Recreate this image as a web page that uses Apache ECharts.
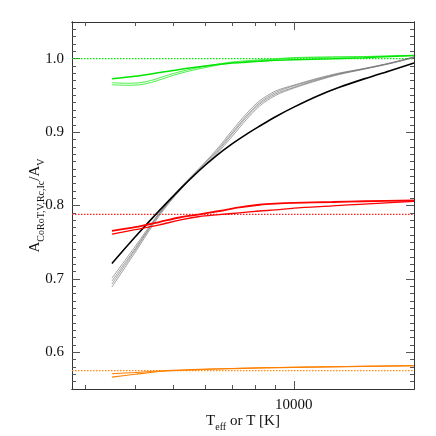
<!DOCTYPE html>
<html>
<head>
<meta charset="utf-8">
<script src="https://cdn.jsdelivr.net/npm/echarts@6/dist/echarts.min.js"></script>
<style>
  html, body { margin: 0; padding: 0; background: #fff; }
  #chart { width: 436px; height: 436px; }
</style>
</head>
<body>
<div id="chart"></div>
<script>
// temperatures [K]
const tBlack = [3500, 4000, 4600, 5200, 5800, 6400, 7000, 7600, 8200, 9000, 10000, 11500, 13000, 15000, 17500, 20000]
const black = [0.721, 0.757, 0.793, 0.823, 0.848, 0.868, 0.884, 0.897, 0.908, 0.921, 0.934, 0.9495, 0.961, 0.9725, 0.984, 0.994]
const gray1 = [0.689, 0.736, 0.786, 0.8215, 0.847, 0.870, 0.894, 0.917, 0.9355, 0.950, 0.960, 0.9705, 0.9785, 0.9857, 0.9935, 1.0015]
const gray2 = [0.693, 0.739, 0.788, 0.8225, 0.848, 0.872, 0.897, 0.920, 0.938, 0.952, 0.961, 0.9715, 0.9792, 0.986, 0.994, 1.002]
const gray3 = [0.697, 0.741, 0.789, 0.8235, 0.850, 0.874, 0.899, 0.922, 0.940, 0.954, 0.963, 0.9725, 0.9798, 0.9864, 0.994, 1.002]
const gray4 = [0.701, 0.744, 0.790, 0.8245, 0.851, 0.876, 0.902, 0.925, 0.9425, 0.956, 0.964, 0.9735, 0.9805, 0.9867, 0.9945, 1.0025]

const tGreen = [3500, 4000, 4800, 5800, 7000, 8500, 10000, 12500, 15000, 17500, 20000]
const green = [0.9728, 0.976, 0.9827, 0.989, 0.994, 0.997, 0.9985, 1.000, 1.0014, 1.003, 1.0045]
const tGreenB = [3500, 3800, 4100, 4400, 4700, 5000, 5500, 6200, 7000, 8500, 10000, 12500, 15000, 20000]
const greenB1 = [0.9673, 0.9666, 0.9672, 0.9705, 0.9755, 0.980, 0.9855, 0.991, 0.9955, 0.999, 1.0015, 1.0025, 1.003, 1.0045]
const greenB2 = [0.9645, 0.9638, 0.9644, 0.9677, 0.9727, 0.9775, 0.9835, 0.9895, 0.9945, 0.998, 1.001, 1.002, 1.0028, 1.0042]

const tRed = [3500, 4000, 4600, 5200, 5800, 6500, 7300, 8200, 9000, 10000, 12500, 15000, 20000]
const redA = [0.7655, 0.7705, 0.7775, 0.784, 0.788, 0.7925, 0.7975, 0.801, 0.8025, 0.8035, 0.8048, 0.8058, 0.8068]
const redB = [0.761, 0.767, 0.7735, 0.7805, 0.785, 0.7875, 0.790, 0.7925, 0.794, 0.7965, 0.7995, 0.802, 0.8055]

const tOrange = [3500, 4000, 4800, 7000, 10000, 15000, 20000]
const orange1 = [0.5708, 0.5725, 0.5752, 0.578, 0.5797, 0.581, 0.5818]
const orange2 = [0.5662, 0.570, 0.5745, 0.5778, 0.5795, 0.5808, 0.5816]

// dotted reference levels
const refGreen = 1.0
const refRed = 0.788
const refOrange = 0.575

const xMin = 2780
const xMax = 20000
const xMinorTicks = [3000, 4000, 5000, 6000, 7000, 8000, 9000]
const xMajorTicks = [10000]
const yMajorTicks = [0.6, 0.7, 0.8, 0.9, 1.0]
const yMinorTicks = []
for (let i = 56; i <= 104; i++) yMinorTicks.push(i / 100)

const font = '"Liberation Serif", "Times New Roman", serif'
const axisColor = '#333'

function pairs(xs, ys) {
  return xs.map((x, i) => [x, ys[i]])
}

function curve(xs, ys, color, width) {
  return {
    type: 'line',
    data: pairs(xs, ys),
    showSymbol: false,
    smooth: 0.3,
    lineStyle: { color: color, width: width },
    silent: true
  }
}

function level(y, color) {
  return {
    type: 'line',
    data: [[xMin, y], [xMax, y]],
    showSymbol: false,
    lineStyle: { color: color, width: 1.2, type: [1.5, 1.5] },
    silent: true
  }
}

function xAxis(position, ticks, len, labels) {
  return {
    type: 'log',
    position: position,
    min: xMin,
    max: xMax,
    axisLine: { show: true, lineStyle: { color: axisColor, width: 1 } },
    axisTick: { show: true, inside: true, length: len, customValues: ticks, lineStyle: { color: '#555' } },
    axisLabel: labels
      ? { show: true, customValues: ticks, margin: 9, fontFamily: font, fontSize: 15, color: '#111', formatter: v => String(Math.round(v)) }
      : { show: false },
    splitLine: { show: false },
    minorTick: { show: false }
  }
}

function yAxis(position, ticks, len, labels) {
  return {
    type: 'value',
    position: position,
    min: 0.55,
    max: 1.05,
    axisLine: { show: true, lineStyle: { color: axisColor, width: 1 } },
    axisTick: { show: true, inside: true, length: len, customValues: ticks, lineStyle: { color: '#555' } },
    axisLabel: labels
      ? { show: true, customValues: ticks, margin: 8, fontFamily: font, fontSize: 15, color: '#111', formatter: v => v.toFixed(1) }
      : { show: false },
    splitLine: { show: false }
  }
}

const chart = echarts.init(document.getElementById('chart'))

const richName = {
  m: { fontFamily: font, fontSize: 15, color: '#111', lineHeight: 22 },
  s: { fontFamily: font, fontSize: 10, color: '#111', lineHeight: 12, verticalAlign: 'bottom' }
}

const yMain = yAxis('left', yMajorTicks, 8, true)
yMain.name = '{m|A}{s|CoRoT,V,Rc,Ic}{m|/A}{s|V}'
yMain.nameLocation = 'middle'
yMain.nameGap = 26
yMain.nameMoveOverlap = false
yMain.nameTextStyle = { rich: richName }

const xMain = xAxis('bottom', xMajorTicks, 8, true)
xMain.name = '{m|T}{s|eff}{m| or T [K]}'
xMain.nameLocation = 'middle'
xMain.nameGap = 21
xMain.nameMoveOverlap = false
xMain.nameTextStyle = { rich: richName }

chart.setOption({
  animation: false,
  backgroundColor: '#fff',
  grid: { left: 72, right: 22, top: 22, bottom: 47, outerBoundsMode: 'none' },
  xAxis: [
    xAxis('bottom', xMinorTicks, 4, false),
    xMain,
    xAxis('top', xMinorTicks, 4, false),
    xAxis('top', xMajorTicks, 8, false)
  ],
  yAxis: [
    yAxis('left', yMinorTicks, 4, false),
    yMain,
    yAxis('right', yMinorTicks, 4, false),
    yAxis('right', yMajorTicks, 8, false)
  ],
  series: [
    level(refGreen, '#00ee00'),
    level(refRed, '#ff2020'),
    level(refOrange, '#ff8a10'),
    curve(tBlack, gray1, '#777', 0.7),
    curve(tBlack, gray2, '#777', 0.7),
    curve(tBlack, gray3, '#777', 0.7),
    curve(tBlack, gray4, '#777', 0.7),
    curve(tBlack, black, '#000', 1.6),
    curve(tGreenB, greenB1, '#33ee33', 0.9),
    curve(tGreenB, greenB2, '#33ee33', 0.9),
    curve(tGreen, green, '#00e600', 1.5),
    curve(tRed, redA, '#ff0000', 1.8),
    curve(tRed, redB, '#ff0000', 1.3),
    curve(tOrange, orange1, '#ff8000', 1.1),
    curve(tOrange, orange2, '#ff8000', 1.1)
  ]
})
</script>
</body>
</html>
